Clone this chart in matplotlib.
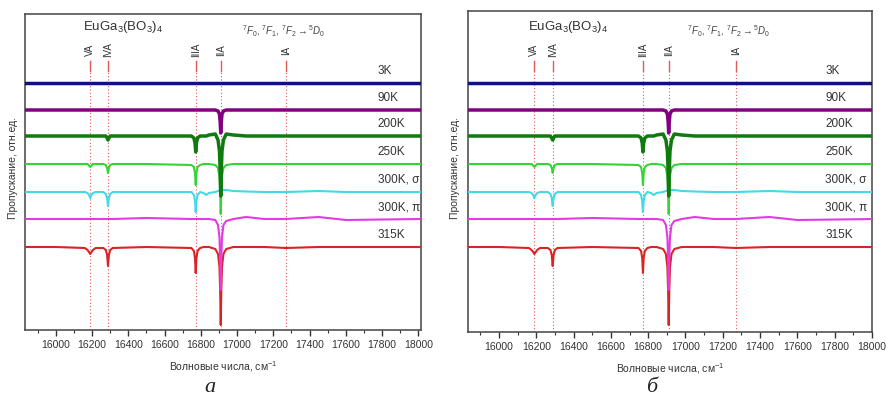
"""Transmission spectra of EuGa3(BO3)4 at several temperatures (two panels)."""

import matplotlib

matplotlib.use("Agg")

import matplotlib.pyplot as plt  # noqa: E402
from matplotlib.ticker import MultipleLocator  # noqa: E402

plt.rcParams["font.family"] = ["Liberation Sans", "DejaVu Sans"]
plt.rcParams["mathtext.fontset"] = "custom"
plt.rcParams["mathtext.rm"] = "Liberation Sans"
plt.rcParams["mathtext.it"] = "Liberation Sans:italic"

# wavenumber grid (cm^-1) shared by all traces
wavenumber = [15835, 16000, 16160, 16175, 16183, 16190, 16197, 16205, 16220,
              16262, 16276, 16283, 16288, 16293, 16300, 16314, 16500,
              16748, 16762, 16768, 16772, 16776, 16782, 16796, 16815, 16830,
              16845, 16880, 16895, 16903, 16907, 16910, 16913, 16917, 16925,
              16940, 16980, 17050, 17150, 17270, 17450, 17600, 18015]

temperatures = ["3K", "90K", "200K", "250K", "300K, σ", "300K, π", "315K"]
colors = ["#101080", "#800080", "#0f7a0f", "#35d435", "#45d8e6", "#e03ce0", "#d82424"]
# vertical offset of each trace (arb. units)
baselines = [247, 220, 194, 166, 138, 111, 83]

# deviation from baseline at every grid point (arb. units)
dev_3k = [0] * 43
dev_90k = [0, 0, 0, 0, 0, 0, 0, 0, 0,
           0, 0, 0, 0, 0, 0, 0, 0,
           0, 0, 0, 0, 0, 0, 0, 0, 0,
           0, 0, -1, -4, -12, -23, -12, -4, -1,
           0, 0, 0, 0, 0, 0, 0, 0]
dev_200k = [0, 0, 0, 0, 0, 0, 0, 0, 0,
            0, 0, -2, -4, -2, 0, 0, 0,
            0, -2, -7, -16, -7, -2, 0, 0, 0,
            1, 2, -4, -15, -35, -60, -35, -15, -4,
            2, 1, 0, 0, 0, 0, 0, 0]
dev_250k = [0, 0, 0, 0, -1.5, -3, -1.5, 0, 0,
            0, -1, -4, -9, -4, -1, 0, 0,
            -1, -3, -9, -21, -9, -3, -1, 0, 0,
            0, -1, -4, -12, -28, -50, -28, -12, -4,
            -1, 0, 0, 0, 0, 0, 0, 0]
dev_300s = [0, 0, 0, -1, -3, -6, -3, -1, 0,
            0, -2, -6, -14, -6, -2, 0, 0,
            0, -3, -9, -20, -9, -3, 0, -1, -3,
            -1, 0, 1, 1.5, 2, 2, 2, 2, 2,
            2, 1, 0.5, 0, 0, 1, 0, 0]
dev_300p = [0, 0, 0, 0, 0, 0, 0, 0, 0,
            0, 0, 0, 0, 0, 0, 0, 1,
            0, 0, 0, 0, 0, 0, 0, 0, 0,
            0, -1, -6, -18, -40, -71, -40, -18, -6,
            -2, 0, 2, 0, 0, 2, -1, 0]
dev_315k = [0, 0, -1, -3, -5, -7, -5, -3, -1,
            -1, -3, -8, -19, -8, -3, -1, 0,
            -1, -4, -11, -26, -11, -4, -1, 0, 0,
            0, -2, -7, -20, -45, -78, -45, -20, -7,
            -2, 0, 0, 0, -1, 0, 0, 0]
deviations = [dev_3k, dev_90k, dev_200k, dev_250k, dev_300s, dev_300p, dev_315k]
line_widths = [2.5, 2.5, 2.5, 1.5, 1.5, 1.5, 1.5]

# assigned absorption lines
line_names = ["VA", "IVA", "IIIA", "IIA", "IA"]
line_positions = [16190, 16288, 16772, 16910, 17270]


def draw_panel(ax, xlim, ylim, label_frac, title_frac, formula_frac):
    # dotted guides for the assigned lines, behind the spectra
    for name, pos in zip(line_names, line_positions):
        ax.plot([pos, pos], [ylim[0], 259], ls=(0, (1, 2)), lw=0.8,
                color="#e05a5a", zorder=1)
        ax.plot([pos, pos], [259, 269], lw=1.0, color="#e05a5a", zorder=1)
        ax.text(pos, 280, name, rotation=90, ha="center", va="center",
                fontsize=7, color="#333333")

    # bottom trace first so upper traces sit on top
    for i in reversed(range(len(temperatures))):
        y = [baselines[i] + d for d in deviations[i]]
        ax.plot(wavenumber, y, color=colors[i], lw=line_widths[i], zorder=2 + (7 - i))
        ax.text(label_frac, baselines[i] + 12, temperatures[i],
                transform=ax.get_yaxis_transform(), fontsize=8.5,
                ha="left", va="center", color="#333333")

    ax.text(title_frac, 303, r"EuGa$_3$(BO$_3$)$_4$", transform=ax.get_yaxis_transform(),
            fontsize=9.5, ha="left", va="center", color="#333333")
    ax.text(formula_frac, 299,
            r"$^7F_0$, $^7F_1$, $^7F_2\rightarrow{}^5D_0$",
            transform=ax.get_yaxis_transform(), fontsize=7,
            ha="center", va="center", color="#444444")

    ax.set_xlim(*xlim)
    ax.set_ylim(*ylim)
    ax.set_yticks([])
    ax.xaxis.set_major_locator(MultipleLocator(200))
    ax.xaxis.set_minor_locator(MultipleLocator(100))
    ax.tick_params(axis="x", which="major", direction="out", length=4, width=1,
                   labelsize=7.5, pad=3, colors="#333333")
    ax.tick_params(axis="x", which="minor", direction="out", length=2.5, width=0.8,
                   colors="#333333")
    for sp in ax.spines.values():
        sp.set_color("#444444")
        sp.set_linewidth(1.1)
    ax.set_xlabel("Волновые числа, см$^{-1}$", fontsize=7.5, labelpad=7,
                  color="#333333")


fig = plt.figure(figsize=(8.87, 3.98), dpi=100)
W, H = 887, 398

ax_a = fig.add_axes([25 / W, 68 / H, 396 / W, 316 / H])
draw_panel(ax_a, (15830, 18015), (0, 316), 0.891, 0.146, 0.654)
ax_b = fig.add_axes([468 / W, 66 / H, 404 / W, 321 / H])
draw_panel(ax_b, (15834, 18000), (-2, 319), 0.884, 0.149, 0.644)

for x_px in (13, 455):
    fig.text(x_px / W, 1 - 168 / H, "Пропускание, отн.ед.", rotation=90,
             ha="center", va="center", fontsize=7.5, color="#333333")

for x_px, letter in ((210, "а"), (652, "б")):
    fig.text(x_px / W, 1 - 392 / H, letter, ha="center", va="baseline",
             fontsize=16, style="italic", family="Liberation Serif",
             color="#222222")

fig.savefig("out.png", dpi=100)
